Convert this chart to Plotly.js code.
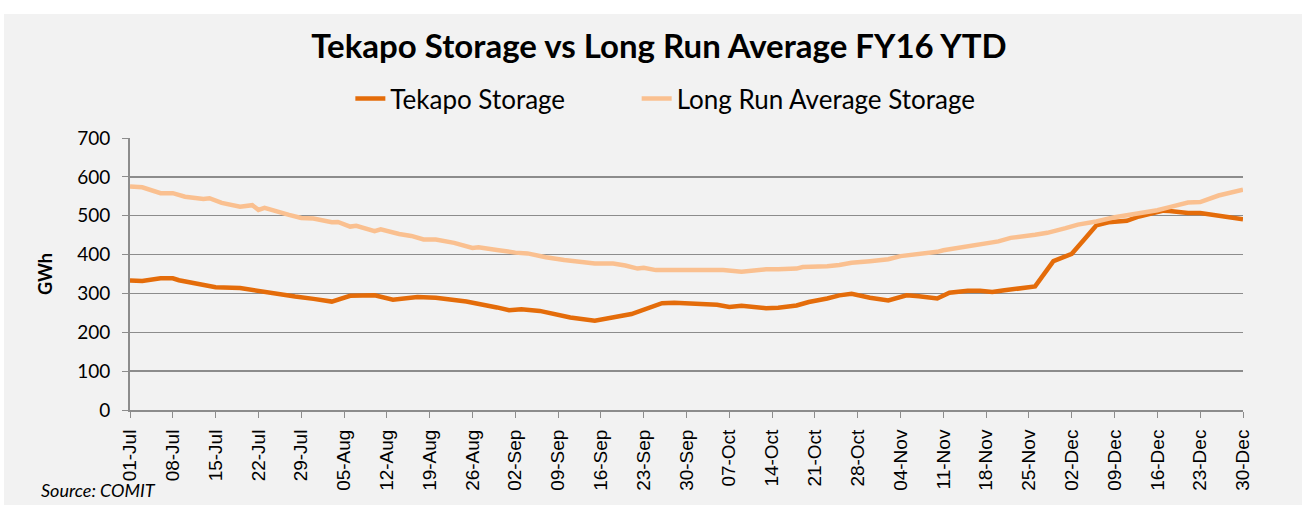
<!DOCTYPE html>
<html>
<head>
<meta charset="utf-8">
<script src="https://cdn.plot.ly/plotly-3.0.1.min.js"></script>
<style>
  body { margin: 0; background: #ffffff; }
  #chart { position: absolute; left: 4px; top: 14px; width: 1298px; height: 491px; }
</style>
</head>
<body>
<div id="chart"></div>
<script>
// Tekapo storage (GWh)
let tekapoDates = ["2015-07-01", "2015-07-03", "2015-07-06", "2015-07-08", "2015-07-09", "2015-07-12", "2015-07-15",
    "2015-07-19", "2015-07-24", "2015-07-28", "2015-07-31", "2015-08-03", "2015-08-06", "2015-08-10", "2015-08-13",
    "2015-08-17", "2015-08-20", "2015-08-25", "2015-08-30", "2015-09-01", "2015-09-03", "2015-09-06", "2015-09-11",
    "2015-09-15", "2015-09-21", "2015-09-24", "2015-09-26", "2015-09-28", "2015-10-01", "2015-10-05", "2015-10-07",
    "2015-10-09", "2015-10-13", "2015-10-15", "2015-10-18", "2015-10-20", "2015-10-23", "2015-10-25", "2015-10-27",
    "2015-10-30", "2015-11-02", "2015-11-05", "2015-11-07", "2015-11-10", "2015-11-12", "2015-11-15", "2015-11-17",
    "2015-11-19", "2015-11-21", "2015-11-24", "2015-11-26", "2015-11-29", "2015-11-30", "2015-12-02", "2015-12-04",
    "2015-12-06", "2015-12-08", "2015-12-11", "2015-12-13", "2015-12-15", "2015-12-17", "2015-12-18", "2015-12-21",
    "2015-12-23", "2015-12-26", "2015-12-30"];
let tekapoValues = [333, 332, 339, 339, 334, 325, 316,
    314, 301, 292, 286, 279, 294, 295, 284,
    291, 289, 279, 264, 257, 259, 255, 238,
    230, 247, 262, 275, 276, 275, 271, 265,
    268, 262, 263, 269, 278, 287, 295, 299,
    289, 282, 295, 293, 287, 302, 307, 307,
    304, 308, 313, 318, 383, 390, 402, 438,
    475, 483, 487, 498, 506, 513, 512, 507,
    507, 499, 491];

// Long run average storage (GWh)
let lraDates = ["2015-07-01", "2015-07-03", "2015-07-06", "2015-07-08", "2015-07-10", "2015-07-13", "2015-07-14",
    "2015-07-16", "2015-07-19", "2015-07-21", "2015-07-22", "2015-07-23", "2015-07-27", "2015-07-29", "2015-07-31",
    "2015-08-03", "2015-08-04", "2015-08-06", "2015-08-07", "2015-08-10", "2015-08-11", "2015-08-14", "2015-08-16",
    "2015-08-18", "2015-08-20", "2015-08-23", "2015-08-26", "2015-08-27", "2015-08-30", "2015-09-01", "2015-09-02",
    "2015-09-04", "2015-09-07", "2015-09-10", "2015-09-13", "2015-09-15", "2015-09-18", "2015-09-20", "2015-09-22",
    "2015-09-23", "2015-09-25", "2015-09-29", "2015-10-04", "2015-10-06", "2015-10-09", "2015-10-11", "2015-10-13",
    "2015-10-15", "2015-10-18", "2015-10-19", "2015-10-21", "2015-10-23", "2015-10-25", "2015-10-27", "2015-10-30",
    "2015-11-02", "2015-11-04", "2015-11-07", "2015-11-10", "2015-11-11", "2015-11-13", "2015-11-15", "2015-11-16",
    "2015-11-18", "2015-11-20", "2015-11-22", "2015-11-24", "2015-11-26", "2015-11-28", "2015-11-29", "2015-12-01",
    "2015-12-03", "2015-12-06", "2015-12-09", "2015-12-13", "2015-12-16", "2015-12-18", "2015-12-21", "2015-12-23",
    "2015-12-26", "2015-12-30"];
let lraValues = [575, 573, 558, 558, 549, 543, 545,
    533, 523, 527, 515, 520, 502, 494, 493,
    483, 484, 472, 474, 460, 465, 453, 448,
    439, 439, 430, 417, 419, 412, 406, 405,
    403, 393, 386, 380, 377, 377, 372, 364,
    366, 360, 361, 362, 360, 356, 359, 362,
    362, 364, 368, 368, 370, 373, 379, 383,
    388, 396, 401, 407, 411, 416, 419, 424,
    428, 434, 443, 446, 451, 456, 461, 468,
    477, 485, 496, 506, 514, 522, 534, 535,
    552, 567];

let gridGray = "#8c8c8c";
let pad = "\u00a0".repeat(10);

let data = [{
    x: tekapoDates,
    y: tekapoValues,
    name: "Tekapo Storage" + pad,
    type: "scatter",
    mode: "lines",
    line: { color: "#E46C0A", width: 4.5 }
}, {
    x: lraDates,
    y: lraValues,
    name: "Long Run Average Storage",
    type: "scatter",
    mode: "lines",
    line: { color: "#FAC090", width: 4.5 }
}];

let layout = {
    width: 1298,
    height: 491,
    paper_bgcolor: "#F2F2F2",
    plot_bgcolor: "#F2F2F2",
    margin: { l: 126, r: 59, t: 124, b: 95 },
    font: { family: "Lato, sans-serif", color: "#000000" },
    title: {
        text: "<b>Tekapo Storage vs Long Run Average FY16 YTD</b>",
        font: { family: "Lato, sans-serif", size: 33, color: "#000000" },
        x: 0.5046, xanchor: "center",
        y: 0.933, yanchor: "middle", yref: "container"
    },
    showlegend: true,
    legend: {
        orientation: "h",
        x: 0.481, xanchor: "center",
        y: 1.145, yanchor: "middle",
        font: { family: "Lato, sans-serif", size: 26 },
        bgcolor: "rgba(0,0,0,0)"
    },
    xaxis: {
        type: "date",
        range: ["2015-07-01", "2015-12-30"],
        tick0: "2015-07-01",
        dtick: 7 * 86400000,
        tickformat: "%d-%b",
        tickangle: -90,
        tickfont: { family: "Liberation Sans, sans-serif", size: 19 },
        ticks: "outside",
        ticklen: 6,
        tickcolor: gridGray,
        ticklabelstandoff: 4,
        showline: true,
        linecolor: gridGray,
        linewidth: 2,
        showgrid: false,
        zeroline: false,
        fixedrange: true
    },
    yaxis: {
        range: [0, 700],
        dtick: 100,
        tickfont: { family: "Lato, sans-serif", size: 19 },
        ticks: "outside",
        ticklen: 6,
        tickcolor: gridGray,
        ticklabelstandoff: 8,
        showline: true,
        linecolor: gridGray,
        linewidth: 2,
        gridcolor: gridGray,
        gridwidth: 1.5,
        zeroline: false,
        title: { text: "<b>GWh</b>", font: { family: "Lato, sans-serif", size: 18 }, standoff: 20 },
        fixedrange: true
    },
    annotations: [{
        text: "<i>Source: COMIT</i>",
        xref: "paper", yref: "paper",
        x: -0.082, xanchor: "left",
        y: -0.294, yanchor: "middle",
        showarrow: false,
        font: { family: "Lato, sans-serif", size: 18 }
    }]
};

Plotly.newPlot("chart", data, layout, { staticPlot: true, displayModeBar: false });
</script>
</body>
</html>
